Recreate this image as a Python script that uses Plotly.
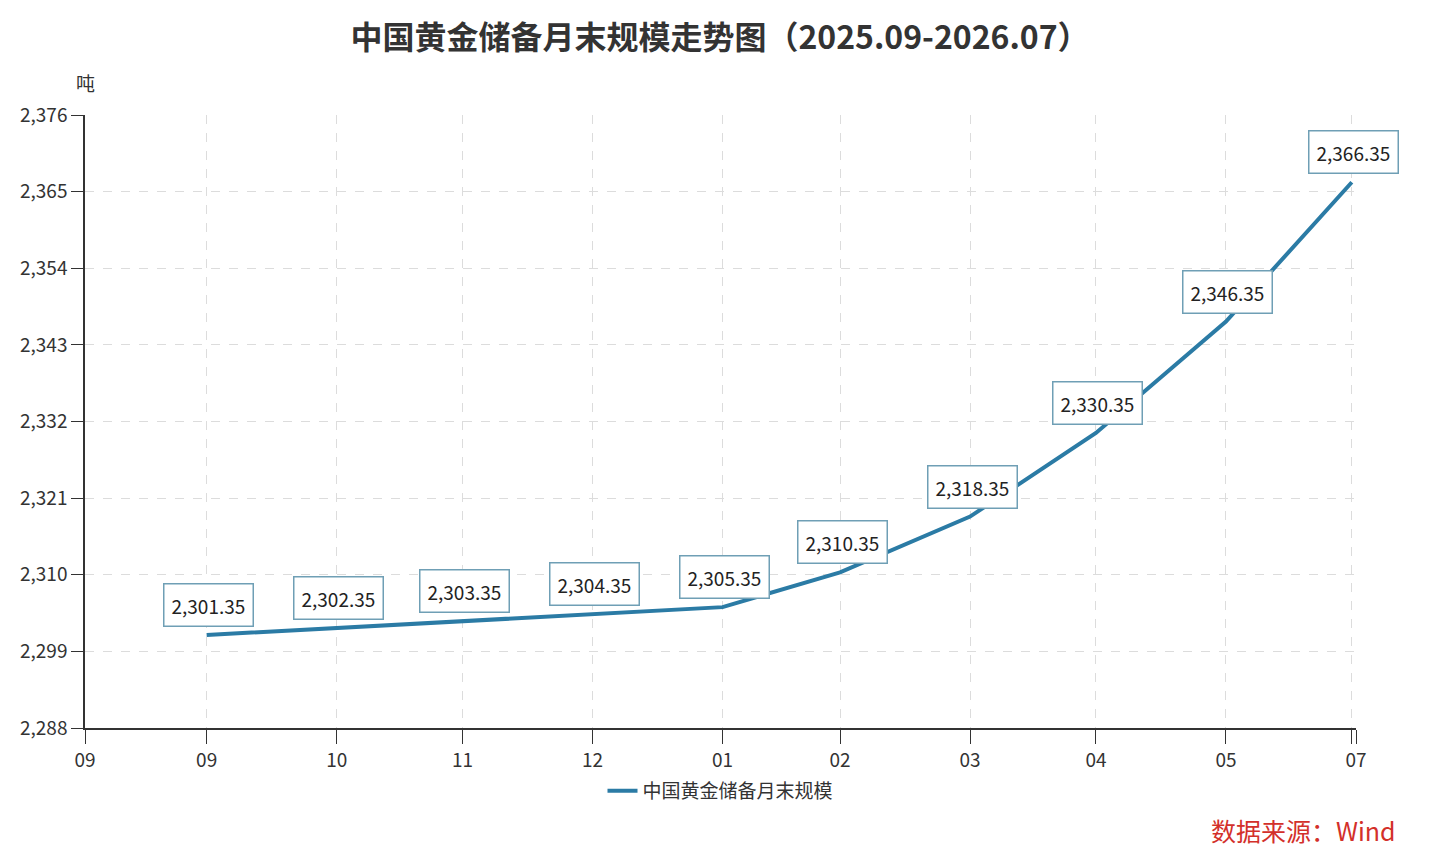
import plotly.graph_objects as go

# month-end dates and gold reserve (tonnes)
dates = ['2025-09-30', '2025-10-31', '2025-11-30', '2025-12-31', '2026-01-31',
         '2026-02-28', '2026-03-31', '2026-04-30', '2026-05-31', '2026-06-30']
reserves = [2301.35, 2302.35, 2303.35, 2304.35, 2305.35,
            2310.35, 2318.35, 2330.35, 2346.35, 2366.35]

axis_start = '2025-09-01'
axis_end = '2026-07-01'
tick_dates = [axis_start] + dates + [axis_end]
tick_text = ['09', '09', '10', '11', '12', '01', '02', '03', '04', '05', '', '07']

series_name = '中国黄金储备月末规模'
title = '中国黄金储备月末规模走势图（2025.09-2026.07）'
font = 'Noto Sans CJK SC'
line_color = '#2b7ba5'

W, H = 1424, 846
L, R, T, B = 77, 76, 107, 126
w_plot = W - L - R
h_plot = H - T - B


def px(sx):
    # screen x (page has 8px body margin) -> paper x
    return (sx - 8 - L) / w_plot


def py(sy):
    return (H - B - (sy - 8)) / h_plot


fig = go.Figure()
fig.add_trace(go.Scatter(
    x=dates, y=reserves, name=series_name, mode='lines',
    line=dict(color=line_color, width=4),
))

# value labels in boxes above each point
for d, v in zip(dates, reserves):
    fig.add_annotation(
        x=d, y=v, xref='x', yref='y', text=f'{v:,.2f}', showarrow=False,
        yanchor='bottom', yshift=8, xshift=2,
        font=dict(family=font, size=19, color='#222'),
        bgcolor='white', bordercolor='#6f9fb5', borderwidth=1.5, borderpad=7,
    )

fig.add_annotation(x=px(85), y=py(82), xref='paper', yref='paper', text='吨', showarrow=False,
                   xanchor='center', yanchor='middle',
                   font=dict(family=font, size=19, color='#333'))
fig.add_annotation(x=px(1398), y=py(830), xref='paper', yref='paper', text='数据来源：Wind',
                   showarrow=False, xanchor='right', yanchor='middle',
                   font=dict(family=font, size=25, color='#d3302a'))

fig.update_layout(
    width=W, height=H,
    margin=dict(l=L, r=R, t=T, b=B),
    paper_bgcolor='white', plot_bgcolor='white',
    font=dict(family=font, size=19, color='#333'),
    title=dict(text='<b>' + title + '</b>', x=0.5, xanchor='center', y=1 - 30 / H, yanchor='middle',
               font=dict(family=font, size=32, color='#333')),
    showlegend=True,
    legend=dict(orientation='h', x=0.5, xanchor='center', y=py(791), yanchor='middle',
                font=dict(family=font, size=19, color='#333')),
    xaxis=dict(
        type='date', range=[axis_start, axis_end],
        tickvals=tick_dates, ticktext=tick_text,
        showline=True, linecolor='#333', linewidth=1.5,
        ticks='outside', ticklen=14, tickcolor='#333',
        showgrid=True, gridcolor='#dcdcdc', griddash='dash', zeroline=False,
        tickfont=dict(family=font, size=19, color='#333'),
    ),
    yaxis=dict(
        range=[2288, 2376], dtick=11, tick0=2288, tickformat=',d',
        showline=True, linecolor='#333', linewidth=1.5,
        ticks='outside', ticklen=12, tickcolor='#333',
        showgrid=True, gridcolor='#dcdcdc', griddash='dash', zeroline=False,
        tickfont=dict(family=font, size=19, color='#333'),
    ),
)

fig.write_html('out.html')
